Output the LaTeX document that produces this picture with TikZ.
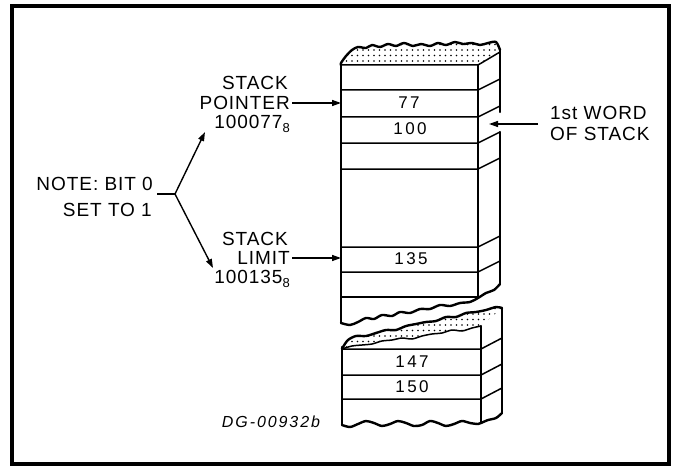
\documentclass[tikz,border=0pt]{standalone}
\usepackage{fontspec}
\setmainfont{Liberation Sans}
\usetikzlibrary{arrows.meta,patterns.meta}
\newcommand{\octsub}[1]{\smash{\raisebox{-0.4ex}{\fontsize{13}{13}\selectfont #1}}}
\tikzset{
  lbl/.style={inner sep=0pt,font=\fontsize{19}{21}\selectfont\addfontfeatures{LetterSpace=5}},
  num/.style={inner sep=0pt,font=\fontsize{17}{19}\selectfont\addfontfeatures{LetterSpace=14}},
  edge/.style={line width=2.4pt,line join=round,line cap=round},
  row/.style={line width=1.5pt},
  arr/.style={line width=1.4pt,-{Triangle[length=9pt,width=6pt]}},
  dotfill/.style={pattern={Dots[distance=5.5pt,radius=0.95pt]}},
}
\begin{document}
\begin{tikzpicture}[x=1pt,y=-1pt]
\useasboundingbox (0,0) rectangle (674,468);
\draw[line width=4pt] (12,6) rectangle (669,464);

% ---------- upper block ----------
\fill[dotfill] (341,65) -- plot[smooth,tension=0.5] coordinates {(341,63) (346,56) (352,50) (358,47) (366,48) (372,45) (380,47) (388,44) (396,46) (404,43) (413,46) (421,44) (430,46) (438,43) (446,45) (455,42) (463,44) (472,43) (480,45) (488,43) (496,42) (500,50)} -- (500,52) -- (478,65) -- cycle;
\draw[edge] plot[smooth,tension=0.5] coordinates {(341,65) (341,63) (346,56) (352,50) (358,47) (366,48) (372,45) (380,47) (388,44) (396,46) (404,43) (413,46) (421,44) (430,46) (438,43) (446,45) (455,42) (463,44) (472,43) (480,45) (488,43) (496,42) (500,50)};
\draw[edge] (341,64) -- (341,323);
\draw[row] (341,65) -- (478,65) -- (500,52);
\draw[edge] (478,65) -- (478,298);
\draw[edge] (500,50) -- (500,112);
\draw[edge] (500,132) -- (500,284);
\draw[edge] plot[smooth,tension=0.5] coordinates {(341,323) (350,325) (358,322) (366,318) (374,319) (382,315) (392,316) (400,312) (410,313) (420,309) (430,309) (440,305) (450,306) (460,303) (470,302) (478,298) (486,293) (494,290) (500,284)};
\foreach \y in {90,117,143,169,247,272}{
  \draw[row] (341,\y) -- (478,\y) -- (500,\y-11);
}
\draw[row] (341,297) -- (478,297);

\node[num] (r77) at (409,103) {77};
\node[num] (r100) at (410,129) {100};
\node[num] (r135) at (411,259) {135};
\coordinate (sp) at (341,103);
\coordinate (sl) at (341,258);
\coordinate (fw) at (489,124);

% ---------- lower block ----------
\fill[dotfill] plot[smooth,tension=0.5] coordinates {(342,349) (352,346) (362,345) (372,344) (382,341) (392,340) (402,338) (412,339) (422,336) (432,334) (442,333) (452,330) (462,331) (472,328) (481,326)} -- (502,308) -- plot[smooth,tension=0.5] coordinates {(502,308) (496,307) (486,310) (476,312) (466,313) (456,317) (446,317) (436,321) (426,322) (416,324) (406,326) (396,330) (386,330) (376,333) (366,336) (356,336) (348,340) (343,347)} -- cycle;
\draw[row] plot[smooth,tension=0.5] coordinates {(342,349) (352,346) (362,345) (372,344) (382,341) (392,340) (402,338) (412,339) (422,336) (432,334) (442,333) (452,330) (462,331) (472,328) (481,326)};
\draw[edge] plot[smooth,tension=0.5] coordinates {(342,349) (343,347) (348,340) (356,336) (366,336) (376,333) (386,330) (396,330) (406,326) (416,324) (426,322) (436,321) (446,317) (456,317) (466,313) (476,312) (486,310) (496,307) (502,308)};
\draw[edge] (342,347) -- (342,425);
\draw[edge] (481,326) -- (481,423);
\draw[edge] (502,308) -- (502,413);
\draw[edge] plot[smooth,tension=0.5] coordinates {(342,425) (350,427) (358,424) (366,421) (374,423) (382,426) (390,424) (398,421) (406,423) (414,426) (422,425) (430,421) (438,423) (446,426) (454,424) (462,421) (470,423) (478,424) (481,423) (488,420) (496,418) (502,413)};
\foreach \y in {349,375,399}{
  \draw[row] (342,\y) -- (481,\y) -- (502,\y-11);
}
\node[num] (r147) at (412,362) {147};
\node[num] (r150) at (412,387) {150};

% ---------- labels ----------
\node[lbl,anchor=east] (sp1) at (288,83) {STACK};
\node[lbl,anchor=east] (sp2) at (290,103) {POINTER};
\node[lbl,anchor=east] (sp3) at (290,122) {100077\octsub{8}};
\node[lbl,anchor=east] (sl1) at (288,239) {STACK};
\node[lbl,anchor=east] (sl2) at (290,258) {LIMIT};
\node[lbl,anchor=east] (sl3) at (290,277) {100135\octsub{8}};
\node[lbl,anchor=east] (n1) at (153,184) {NOTE: BIT 0};
\node[lbl,anchor=east] (n2) at (152,210) {SET TO 1};
\node[lbl,anchor=west] (w1) at (550,113) {1st WORD};
\node[lbl,anchor=west] (w2) at (550,134) {OF STACK};
\node[inner sep=0pt,font=\fontsize{16}{18}\selectfont\itshape\addfontfeatures{LetterSpace=12}] (dg) at (271,422) {DG-00932b};

\coordinate (fork) at (175,194);
\coordinate (ns) at (157,194);
\coordinate (tp) at (205,132);
\coordinate (tl) at (213,268);
\coordinate (wt) at (538,124);
\draw[line width=1.4pt] (ns) -- (fork);
\draw[arr] (fork) -- (tp);
\draw[arr] (fork) -- (tl);
\draw[arr] (sp2.east) ++(2,0) -- (sp);
\draw[arr] (sl2.east) ++(2,0) -- (sl);
\draw[arr] (wt) -- (fw);
\end{tikzpicture}
\end{document}
